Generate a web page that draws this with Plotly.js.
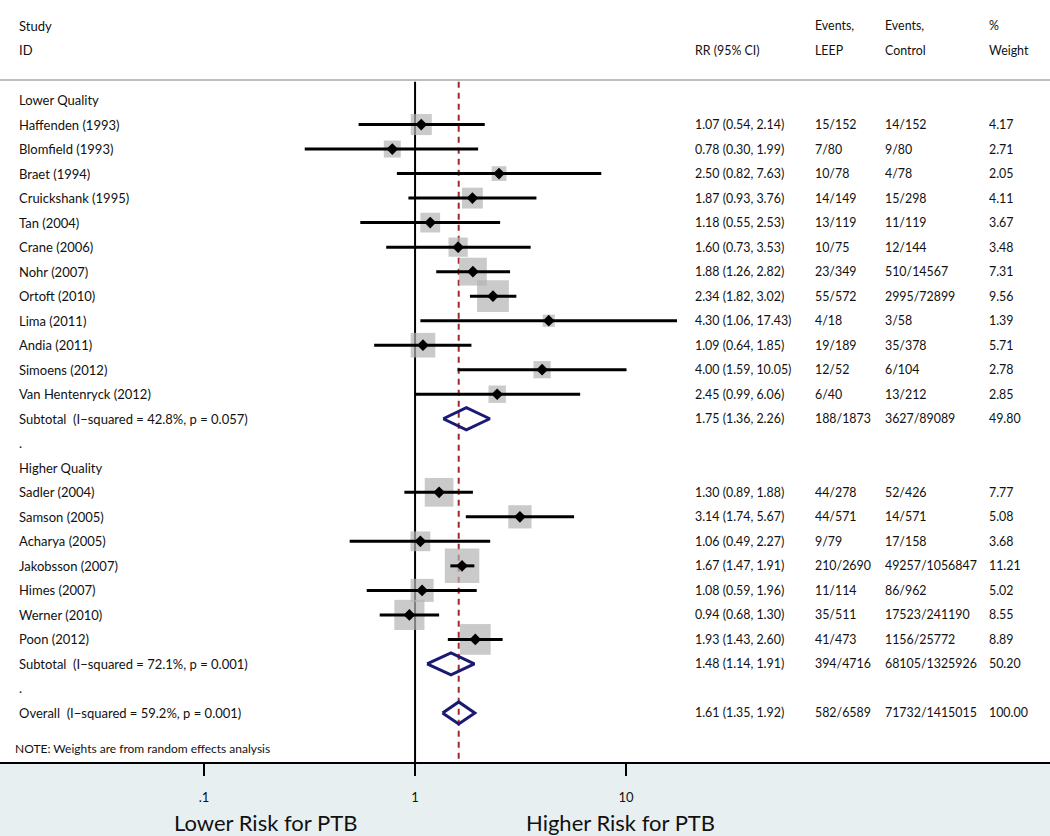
<!DOCTYPE html>
<html>
<head>
<meta charset="utf-8">
<script src="https://cdn.plot.ly/plotly-3.0.1.min.js"></script>
<style>
  html, body { margin: 0; padding: 0; background: #fff; }
  #chart { width: 1050px; height: 836px; }
</style>
</head>
<body>
<div id="chart"></div>
<script>
// lower quality studies
const lowerStudy = ['Haffenden (1993)', 'Blomfield (1993)', 'Braet (1994)', 'Cruickshank (1995)', 'Tan (2004)',
  'Crane (2006)', 'Nohr (2007)', 'Ortoft (2010)', 'Lima (2011)', 'Andia (2011)', 'Simoens (2012)', 'Van Hentenryck (2012)'];
const lowerRR = [1.07, 0.78, 2.50, 1.87, 1.18, 1.60, 1.88, 2.34, 4.30, 1.09, 4.00, 2.45];
const lowerLo = [0.54, 0.30, 0.82, 0.93, 0.55, 0.73, 1.26, 1.82, 1.06, 0.64, 1.59, 0.99];
const lowerHi = [2.14, 1.99, 7.63, 3.76, 2.53, 3.53, 2.82, 3.02, 17.43, 1.85, 10.05, 6.06];
const lowerLeep = ['15/152', '7/80', '10/78', '14/149', '13/119', '10/75', '23/349', '55/572', '4/18', '19/189', '12/52', '6/40'];
const lowerCtrl = ['14/152', '9/80', '4/78', '15/298', '11/119', '12/144', '510/14567', '2995/72899', '3/58', '35/378', '6/104', '13/212'];
const lowerWeight = [4.17, 2.71, 2.05, 4.11, 3.67, 3.48, 7.31, 9.56, 1.39, 5.71, 2.78, 2.85];

// higher quality studies
const higherStudy = ['Sadler (2004)', 'Samson (2005)', 'Acharya (2005)', 'Jakobsson (2007)', 'Himes (2007)', 'Werner (2010)', 'Poon (2012)'];
const higherRR = [1.30, 3.14, 1.06, 1.67, 1.08, 0.94, 1.93];
const higherLo = [0.89, 1.74, 0.49, 1.47, 0.59, 0.68, 1.43];
const higherHi = [1.88, 5.67, 2.27, 1.91, 1.96, 1.30, 2.60];
const higherLeep = ['44/278', '44/571', '9/79', '210/2690', '11/114', '35/511', '41/473'];
const higherCtrl = ['52/426', '14/571', '17/158', '49257/1056847', '86/962', '17523/241190', '1156/25772'];
const higherWeight = [7.77, 5.08, 3.68, 11.21, 5.02, 8.55, 8.89];

// pooled estimates: lower subtotal, higher subtotal, overall
const pooledLabel = ['Subtotal\u00a0 (I\u2212squared = 42.8%, p = 0.057)', 'Subtotal\u00a0 (I\u2212squared = 72.1%, p = 0.001)',
  'Overall\u00a0 (I\u2212squared = 59.2%, p = 0.001)'];
const pooledRR = [1.75, 1.48, 1.61];
const pooledLo = [1.36, 1.14, 1.35];
const pooledHi = [2.26, 1.91, 1.92];
const pooledLeep = ['188/1873', '394/4716', '582/6589'];
const pooledCtrl = ['3627/89089', '68105/1325926', '71732/1415015'];
const pooledWeight = [49.80, 50.20, 100.00];

const groupLabels = ['Lower Quality', 'Higher Quality'];
const tickVals = [0.1, 1, 10];
const tickText = ['.1', '1', '10'];

// build the rows top to bottom
let rows = [];
function addStudies(names, rr, lo, hi, leep, ctrl, w) {
  names.forEach((n, i) => rows.push({kind: 'study', label: n, rr: rr[i], lo: lo[i], hi: hi[i], leep: leep[i], ctrl: ctrl[i], w: w[i]}));
}
function addPooled(i) {
  rows.push({kind: 'pooled', label: pooledLabel[i], rr: pooledRR[i], lo: pooledLo[i], hi: pooledHi[i],
    leep: pooledLeep[i], ctrl: pooledCtrl[i], w: pooledWeight[i]});
}
rows.push({kind: 'head', label: groupLabels[0]});
addStudies(lowerStudy, lowerRR, lowerLo, lowerHi, lowerLeep, lowerCtrl, lowerWeight);
addPooled(0);
rows.push({kind: 'head', label: '.'});
rows.push({kind: 'head', label: groupLabels[1]});
addStudies(higherStudy, higherRR, higherLo, higherHi, higherLeep, higherCtrl, higherWeight);
addPooled(1);
rows.push({kind: 'head', label: '.'});
addPooled(2);

const colX = {study: 17, rr: 693, leep: 813, ctrl: 883, w: 987};
const W = 1050;
const numSize = 12.4;
const annotations = [];
function txt(px, y, s, size) {
  annotations.push({xref: 'paper', yref: 'y', x: px / W, y: y, text: s, showarrow: false,
    xanchor: 'left', yanchor: 'middle', font: {size: size || 13, color: '#111'}});
}

// header
txt(colX.study, -3.02, 'Study');
txt(colX.study, -2.04, 'ID');
txt(colX.rr, -2.04, 'RR (95% CI)', numSize);
txt(colX.leep, -3.02, 'Events,', numSize);
txt(colX.leep, -2.04, 'LEEP', numSize);
txt(colX.ctrl, -3.02, 'Events,', numSize);
txt(colX.ctrl, -2.04, 'Control', numSize);
txt(colX.w, -3.02, '%', numSize);
txt(colX.w, -2.04, 'Weight', numSize);

const sq = {x: [], y: [], size: []};
const ci = {x: [], y: []};
const pt = {x: [], y: []};
const dia = {x: [], y: []};
const dh = 0.45;

rows.forEach((r, i) => {
  txt(colX.study, i, r.label);
  if (r.kind === 'head') return;
  txt(colX.rr, i, r.rr.toFixed(2) + ' (' + r.lo.toFixed(2) + ', ' + r.hi.toFixed(2) + ')', numSize);
  txt(colX.leep, i, r.leep, numSize);
  txt(colX.ctrl, i, r.ctrl, numSize);
  txt(colX.w, i, r.w.toFixed(2), numSize);
  if (r.kind === 'study') {
    sq.x.push(r.rr); sq.y.push(i); sq.size.push(10.3 * Math.sqrt(r.w));
    ci.x.push(r.lo, r.hi, null); ci.y.push(i, i, null);
    pt.x.push(r.rr); pt.y.push(i);
  } else {
    dia.x.push(r.lo, r.rr, r.hi, r.rr, r.lo, null);
    dia.y.push(i, i - dh, i, i + dh, i, null);
  }
});

const noteRow = rows.length + 0.43;
txt(13, noteRow, 'NOTE: Weights are from random effects analysis', 12);

const yBottom = rows.length + 1;
const yTop = -0.75;
const overall = pooledRR[2];

annotations.push({xref: 'paper', yref: 'paper', x: 265 / W, y: -(822 - 762) / 762, text: 'Lower Risk for PTB',
  showarrow: false, xanchor: 'center', yanchor: 'middle', font: {size: 22, color: '#111'}});
annotations.push({xref: 'paper', yref: 'paper', x: 620 / W, y: -(822 - 762) / 762, text: 'Higher Risk for PTB',
  showarrow: false, xanchor: 'center', yanchor: 'middle', font: {size: 22, color: '#111'}});

const traces = [
  {x: [1, 1], y: [yTop, yBottom], mode: 'lines', line: {color: '#000', width: 2}, hoverinfo: 'skip'},
  {x: [overall, overall], y: [yTop, yBottom], mode: 'lines', line: {color: '#a3282e', width: 2, dash: '6px,5px'}, hoverinfo: 'skip'},
  {x: sq.x, y: sq.y, mode: 'markers', marker: {symbol: 'square', size: sq.size, color: '#b4b4b4', line: {width: 0}}, hoverinfo: 'skip'},
  {x: ci.x, y: ci.y, mode: 'lines', line: {color: '#000', width: 3}, connectgaps: false, hoverinfo: 'skip'},
  {x: pt.x, y: pt.y, mode: 'markers', marker: {symbol: 'diamond', size: 9, color: '#000'}, hoverinfo: 'skip'},
  {x: dia.x, y: dia.y, mode: 'lines', line: {color: '#1a1a75', width: 3}, connectgaps: false, hoverinfo: 'skip'}
];

const layout = {
  width: 1050, height: 836,
  margin: {l: 0, r: 0, t: 0, b: 74},
  paper_bgcolor: '#e8eff1',
  plot_bgcolor: '#ffffff',
  showlegend: false,
  font: {family: 'Lato, "Open Sans", sans-serif', size: 13, color: '#111'},
  xaxis: {
    type: 'log', range: [-1.967, 3.009], autorange: false,
    showline: true, linecolor: '#000', linewidth: 2, mirror: false,
    ticks: 'outside', ticklen: 12, tickwidth: 2, tickcolor: '#000',
    tickvals: tickVals, ticktext: tickText, ticklabelstandoff: 10,
    tickfont: {size: 13, color: '#111'},
    showgrid: false, zeroline: false, fixedrange: true
  },
  yaxis: {range: [yBottom, -4.08], autorange: false, visible: false, showgrid: false, zeroline: false, fixedrange: true},
  shapes: [
    {type: 'line', xref: 'paper', yref: 'y', x0: 0, x1: 1, y0: -0.82, y1: -0.82, line: {color: '#bdbdbd', width: 2}}
  ],
  annotations: annotations
};

Plotly.newPlot('chart', traces, layout, {displayModeBar: false, staticPlot: true});
</script>
</body>
</html>
